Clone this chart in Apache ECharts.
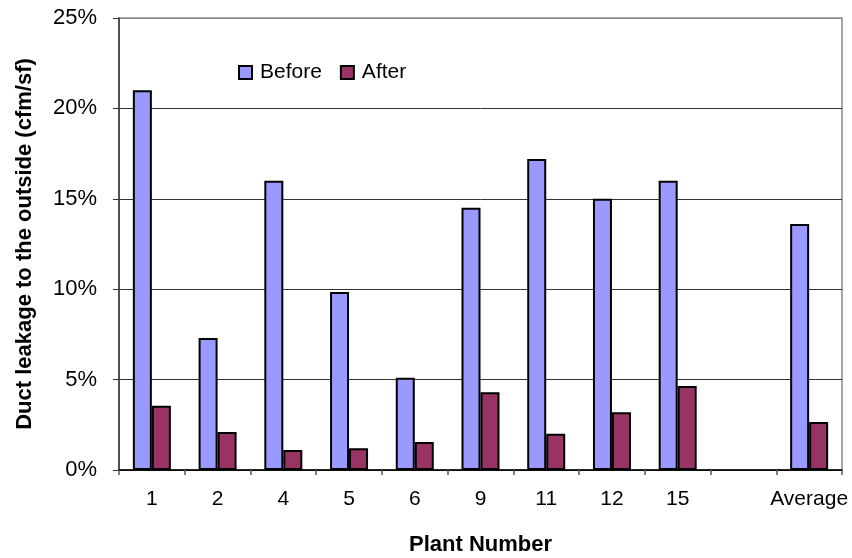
<!DOCTYPE html>
<html>
<head>
<meta charset="utf-8">
<script src="https://cdn.jsdelivr.net/npm/echarts@6/dist/echarts.min.js"></script>
<style>
  html, body { margin: 0; padding: 0; background: #fff; }
  #chart { width: 852px; height: 558px; }
</style>
</head>
<body>
<div id="chart"></div>
<script>
// plant numbers, blank slot before the average
let plants = ['1', '2', '4', '5', '6', '9', '11', '12', '15', '', 'Average'];
// duct leakage, percent
let before = [21.0, 7.3, 16.0, 9.85, 5.1, 14.5, 17.2, 15.0, 16.0, null, 13.6];
let after = [3.55, 2.1, 1.1, 1.2, 1.55, 4.3, 2.0, 3.2, 4.65, null, 2.65];
let yTicks = [0, 5, 10, 15, 20, 25];

let chart = echarts.init(document.getElementById('chart'));
let font = 'Liberation Sans, Arial, sans-serif';

let option = {
    animation: false,
    textStyle: { fontFamily: font },
    grid: {
        left: 119,
        right: 10,
        top: 18,
        bottom: 88,
        outerBoundsMode: 'none',
        show: true,
        borderColor: '#888',
        borderWidth: 1.5
    },
    legend: {
        left: 233,
        top: 57,
        itemWidth: 13,
        itemHeight: 13,
        itemGap: 18,
        icon: 'rect',
        textStyle: {
            fontSize: 21,
            color: '#000',
            fontFamily: font,
            padding: [0, 0, 0, 3]
        },
        data: ['Before', 'After']
    },
    xAxis: {
        type: 'category',
        data: plants,
        name: 'Plant Number',
        nameLocation: 'middle',
        nameGap: 64,
        nameTextStyle: { fontSize: 22, fontWeight: 'bold', color: '#000', fontFamily: font },
        axisLine: { lineStyle: { color: '#000', width: 1.5 } },
        axisTick: { show: true, length: 5, lineStyle: { color: '#555', width: 1.5 } },
        axisLabel: { fontSize: 21, color: '#000', margin: 19, interval: 0 }
    },
    yAxis: {
        type: 'value',
        min: yTicks[0],
        max: yTicks[yTicks.length - 1],
        interval: 5,
        name: 'Duct leakage to the outside (cfm/sf)',
        nameLocation: 'middle',
        nameGap: 83,
        nameTextStyle: { fontSize: 22, fontWeight: 'bold', color: '#000', fontFamily: font },
        axisLine: { show: true, lineStyle: { color: '#333', width: 1.5 } },
        axisTick: { show: true, length: 6, lineStyle: { color: '#333' } },
        axisLabel: { fontSize: 22, color: '#000', margin: 22, formatter: '{value}%' },
        splitLine: {
            lineStyle: { color: ['#333', '#333', '#333', '#333', '#333', '#888'], width: 1 }
        }
    },
    series: [
        {
            name: 'Before',
            type: 'bar',
            data: before,
            barWidth: 19,
            barGap: '0%',
            itemStyle: { color: '#9999FF', borderColor: '#000', borderWidth: 2 }
        },
        {
            name: 'After',
            type: 'bar',
            data: after,
            barWidth: 19,
            itemStyle: { color: '#993366', borderColor: '#000', borderWidth: 2 }
        }
    ]
};
chart.setOption(option);
</script>
</body>
</html>
